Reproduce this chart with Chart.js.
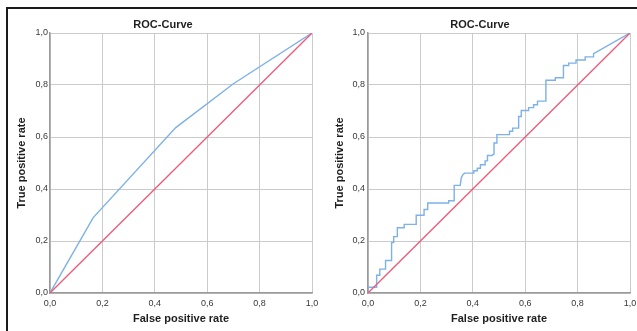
<!DOCTYPE html>
<html>
<head>
<meta charset="utf-8">
<script src="https://cdn.jsdelivr.net/npm/chart.js@4.4.1/dist/chart.umd.min.js"></script>
<style>
  html, body { margin: 0; padding: 0; background: #fff; }
  body { width: 637px; height: 331px; position: relative; overflow: hidden; }
  #frame { position: absolute; left: 6px; top: 7px; right: -2px; bottom: -2px;
           border-top: 2px solid #1a1a1a; border-left: 2px solid #1a1a1a; }
  canvas { position: absolute; }
  #leftRoc { left: 8px; top: 9px; }
  #rightRoc { left: 323px; top: 9px; }
</style>
</head>
<body>
<div id="frame"></div>
<canvas id="leftRoc" width="310" height="322"></canvas>
<canvas id="rightRoc" width="314" height="322"></canvas>
<script>
// tick labels (comma decimals as in the original)
const tickLabels = ['0,0', '0,2', '0,4', '0,6', '0,8', '1,0'];

// reference diagonal
const diagFpr = [0, 1];
const diagTpr = [0, 1];

// left ROC curve
const leftFpr = [0, 0.165, 0.48, 0.70, 1];
const leftTpr = [0, 0.29, 0.636, 0.805, 1];

// right ROC curve (step corners)
const rightFpr = [0, 0, 0.033, 0.033, 0.045, 0.045, 0.067, 0.067, 0.090, 0.090, 0.098, 0.098,
  0.112, 0.112, 0.138, 0.138, 0.184, 0.184, 0.214, 0.214, 0.228, 0.228, 0.308, 0.308,
  0.329, 0.329, 0.352, 0.356, 0.362, 0.369, 0.404, 0.404, 0.417, 0.417, 0.429, 0.429,
  0.447, 0.447, 0.456, 0.456, 0.473, 0.481, 0.481, 0.492, 0.492, 0.540, 0.540, 0.552,
  0.552, 0.575, 0.575, 0.585, 0.585, 0.613, 0.613, 0.632, 0.632, 0.647, 0.647, 0.679,
  0.679, 0.715, 0.715, 0.746, 0.746, 0.766, 0.766, 0.794, 0.794, 0.829, 0.829, 0.861,
  0.861, 1];
const rightTpr = [0, 0.022, 0.022, 0.068, 0.068, 0.092, 0.092, 0.125, 0.125, 0.194, 0.194, 0.217,
  0.217, 0.251, 0.251, 0.264, 0.264, 0.299, 0.299, 0.321, 0.321, 0.346, 0.346, 0.355,
  0.355, 0.414, 0.414, 0.443, 0.455, 0.461, 0.461, 0.470, 0.470, 0.480, 0.480, 0.493,
  0.493, 0.508, 0.508, 0.529, 0.529, 0.535, 0.577, 0.577, 0.609, 0.609, 0.622, 0.622,
  0.634, 0.634, 0.679, 0.679, 0.702, 0.702, 0.713, 0.713, 0.724, 0.724, 0.738, 0.738,
  0.818, 0.818, 0.828, 0.828, 0.875, 0.875, 0.884, 0.884, 0.896, 0.896, 0.908, 0.908,
  0.921, 1];

const fontFamily = '"Liberation Sans", Arial, sans-serif';
const toXY = (xs, ys) => xs.map((x, i) => ({ x: x, y: ys[i] }));

function makeRoc(id, fpr, tpr, yWidth, yTitlePad, yTickPad, rightGap) {
  const axisBase = {
    type: 'linear',
    min: 0,
    max: 1,
    grid: { color: '#cbcbcb', lineWidth: 1, drawTicks: false },
    border: { color: '#9a9a9a', width: 1.5 }
  };
  return new Chart(document.getElementById(id), {
    type: 'scatter',
    data: {
      datasets: [
        {
          label: 'Reference',
          data: toXY(diagFpr, diagTpr),
          showLine: true,
          borderColor: '#ec5a78',
          borderWidth: 1.3,
          pointRadius: 0,
          order: 0
        },
        {
          label: 'ROC',
          data: toXY(fpr, tpr),
          showLine: true,
          borderColor: '#7db1e8',
          borderWidth: 1.4,
          pointRadius: 0,
          order: 1
        }
      ]
    },
    options: {
      responsive: false,
      animation: false,
      layout: { padding: 0 },
      plugins: {
        legend: { display: false },
        tooltip: { enabled: false },
        title: {
          display: true,
          text: 'ROC-Curve',
          color: '#1e1e1e',
          font: { family: fontFamily, size: 11, weight: 'bold' },
          padding: { top: 9.4, bottom: 1.4 }
        }
      },
      scales: {
        x: Object.assign({}, axisBase, {
          ticks: {
            stepSize: 0.2,
            maxRotation: 0,
            padding: 5,
            color: '#383838',
            font: { family: fontFamily, size: 9 },
            callback: (v, i) => tickLabels[i]
          },
          title: {
            display: true,
            text: 'False positive rate',
            color: '#1e1e1e',
            font: { family: fontFamily, size: 11, weight: 'bold' },
            padding: { top: 0, bottom: 5.4 }
          },
          afterFit: (s) => {
            s.height = 38;
            s.paddingLeft = 0;
            s.paddingRight = rightGap;
          }
        }),
        y: Object.assign({}, axisBase, {
          ticks: {
            stepSize: 0.2,
            padding: yTickPad,
            color: '#383838',
            font: { family: fontFamily, size: 9 },
            callback: (v, i) => tickLabels[i]
          },
          title: {
            display: true,
            text: 'True positive rate',
            color: '#1e1e1e',
            font: { family: fontFamily, size: 11, weight: 'bold' },
            padding: { top: yTitlePad, bottom: 0 }
          },
          afterFit: (s) => { s.width = yWidth; }
        })
      }
    }
  });
}

makeRoc('leftRoc', leftFpr, leftTpr, 42, 7.4, 2, 6);
makeRoc('rightRoc', rightFpr, rightTpr, 45, 9.9, 3, 7);
</script>
</body>
</html>
